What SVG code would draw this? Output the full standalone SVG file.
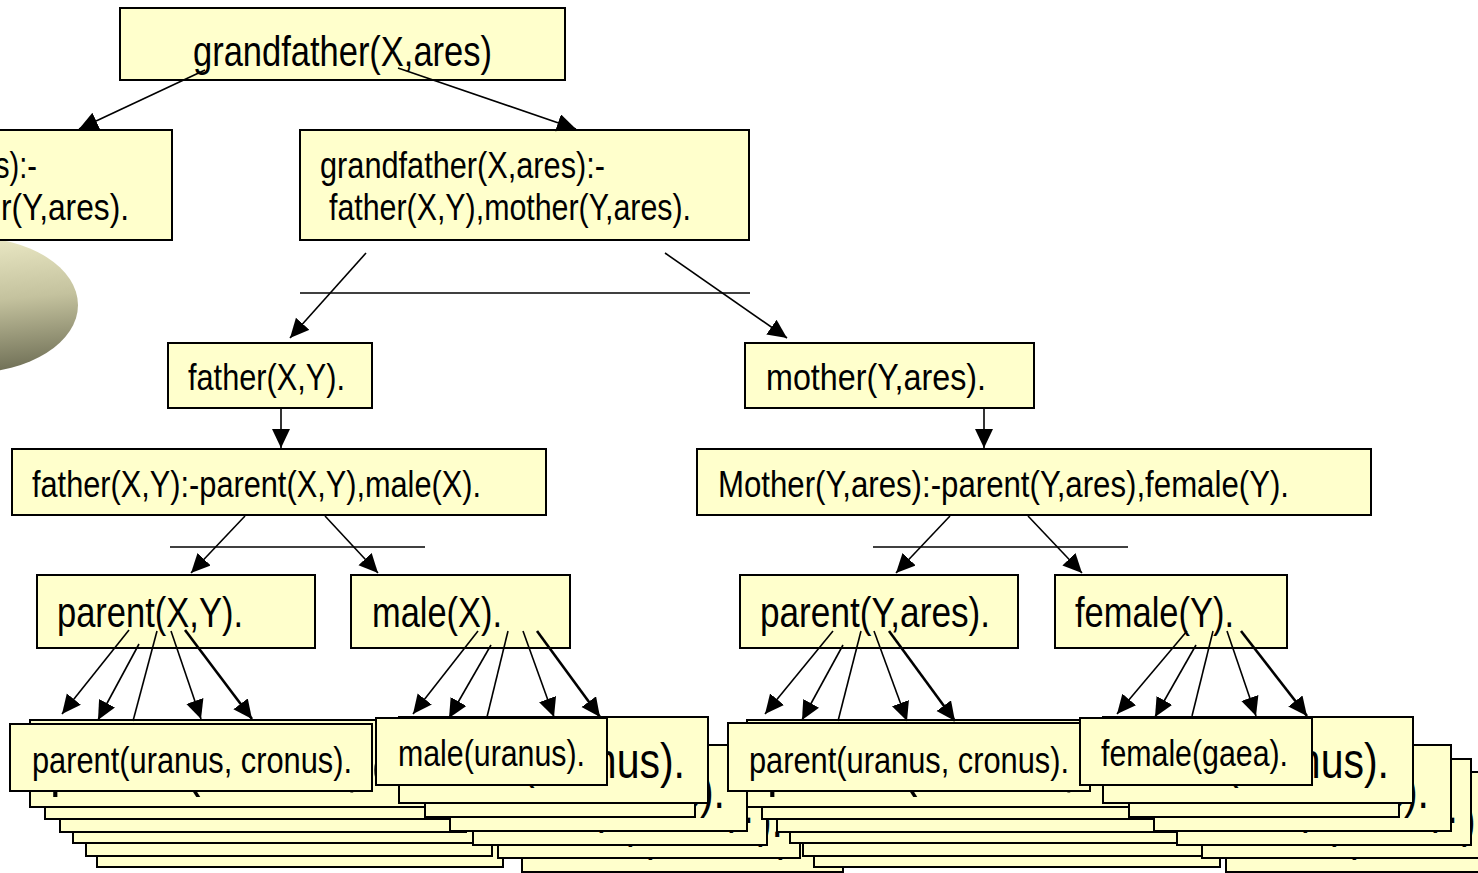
<svg xmlns="http://www.w3.org/2000/svg" width="1478" height="873" viewBox="0 0 1478 873">
  <defs>
    <linearGradient id="bulb" x1="0.3" y1="0" x2="0.45" y2="1">
      <stop offset="0" stop-color="#eeecc8"/>
      <stop offset="0.5" stop-color="#c4c29e"/>
      <stop offset="1" stop-color="#737359"/>
    </linearGradient>
    <marker id="head" markerUnits="userSpaceOnUse" markerWidth="22" markerHeight="22" refX="19" refY="9" orient="auto">
      <path d="M0,0 L19,9 L0,18 z" fill="#000"/>
    </marker>
    <style>
      .box { fill:#FFFFCC; stroke:#000; stroke-width:2; }
      .t { font-family:"Liberation Sans Narrow","Arial Narrow","Liberation Sans",Arial,sans-serif; fill:#000; }
      .s42 { font-size:42px; }
      .s37 { font-size:37.5px; }
      .s50 { font-size:50px; }
      .s58 { font-size:58px; }
      .rule { stroke:#000; stroke-width:1.6; fill:none; }
      .arr { stroke:#000; stroke-width:1.6; fill:none; marker-end:url(#head); }
      .arr.thick { stroke-width:2.6; }
    </style>
  </defs>
  <rect width="1478" height="873" fill="#fff"/>

  <!-- shaded oval on the left edge -->
  <ellipse id="oval" cx="-30" cy="305" rx="108" ry="68" fill="url(#bulb)"/>

  <!-- goal -->
  <g id="goal">
    <rect class="box" x="120" y="8" width="445" height="72"/>
    <text class="t s42" x="193" y="66" textLength="299" lengthAdjust="spacingAndGlyphs">grandfather(X,ares)</text>
  </g>

  <!-- first clause (cut at the left edge) -->
  <g id="clause-left">
    <rect class="box" x="-10" y="130" width="182" height="110"/>
    <text class="t s37" x="-5" y="178" textLength="42" lengthAdjust="spacingAndGlyphs">s):-</text>
    <text class="t s37" x="1" y="220" textLength="128" lengthAdjust="spacingAndGlyphs">r(Y,ares).</text>
  </g>

  <!-- second clause -->
  <g id="clause-right">
    <rect class="box" x="300" y="130" width="449" height="110"/>
    <text class="t s37" x="320" y="178" textLength="285" lengthAdjust="spacingAndGlyphs">grandfather(X,ares):-</text>
    <text class="t s37" x="329" y="220" textLength="362" lengthAdjust="spacingAndGlyphs">father(X,Y),mother(Y,ares).</text>
  </g>

  <g id="father-goal">
    <rect class="box" x="168" y="343" width="204" height="65"/>
    <text class="t s37" x="188" y="390" textLength="157" lengthAdjust="spacingAndGlyphs">father(X,Y).</text>
  </g>
  <g id="mother-goal">
    <rect class="box" x="745" y="343" width="289" height="65"/>
    <text class="t s37" x="766" y="390" textLength="220" lengthAdjust="spacingAndGlyphs">mother(Y,ares).</text>
  </g>

  <g id="father-rule">
    <rect class="box" x="12" y="449" width="534" height="66"/>
    <text class="t s37" x="32" y="497" textLength="449" lengthAdjust="spacingAndGlyphs">father(X,Y):-parent(X,Y),male(X).</text>
  </g>
  <g id="mother-rule">
    <rect class="box" x="697" y="449" width="674" height="66"/>
    <text class="t s37" x="718" y="497" textLength="571" lengthAdjust="spacingAndGlyphs">Mother(Y,ares):-parent(Y,ares),female(Y).</text>
  </g>

  <g id="parent-xy">
    <rect class="box" x="37" y="575" width="278" height="73"/>
    <text class="t s42" x="57" y="627" textLength="186" lengthAdjust="spacingAndGlyphs">parent(X,Y).</text>
  </g>
  <g id="male-x">
    <rect class="box" x="351" y="575" width="219" height="73"/>
    <text class="t s42" x="372" y="627" textLength="130" lengthAdjust="spacingAndGlyphs">male(X).</text>
  </g>
  <g id="parent-y-ares">
    <rect class="box" x="740" y="575" width="278" height="73"/>
    <text class="t s42" x="760" y="627" textLength="230" lengthAdjust="spacingAndGlyphs">parent(Y,ares).</text>
  </g>
  <g id="female-y">
    <rect class="box" x="1055" y="575" width="232" height="73"/>
    <text class="t s42" x="1075" y="627" textLength="159" lengthAdjust="spacingAndGlyphs">female(Y).</text>
  </g>

  <!-- fact stack: parent(uranus, cronus) under parent(X,Y) -->
  <g id="facts-parent-1">
    <rect class="box" x="97" y="780" width="406" height="87"/>
    <rect class="box" x="86" y="769" width="406" height="87"/>
    <rect class="box" x="73" y="756" width="406" height="87"/>
    <rect class="box" x="60" y="745" width="406" height="87"/>
    <rect class="box" x="45" y="732" width="406" height="87"/>
    <rect class="box" x="30" y="720" width="406" height="87"/>
    <text class="t s58" x="50" y="785" textLength="494" lengthAdjust="spacingAndGlyphs">parent(uranus, cronus).</text>
    <rect class="box" x="10" y="724" width="362" height="67"/>
    <text class="t s37" x="32" y="773" textLength="320" lengthAdjust="spacingAndGlyphs">parent(uranus, cronus).</text>
  </g>

  <!-- fact stack: male(uranus) -->
  <g id="facts-male">
    <rect class="box" x="522" y="786" width="321" height="86"/>
    <text class="t s50" x="550" y="850" textLength="253" lengthAdjust="spacingAndGlyphs">male(uranus).</text>
    <rect class="box" x="498" y="772" width="302" height="86"/>
    <text class="t s50" x="530" y="837" textLength="253" lengthAdjust="spacingAndGlyphs">male(uranus).</text>
    <rect class="box" x="473" y="759" width="294" height="86"/>
    <text class="t s50" x="501" y="823" textLength="253" lengthAdjust="spacingAndGlyphs">male(uranus).</text>
    <rect class="box" x="450" y="745" width="297" height="86"/>
    <text class="t s50" x="472" y="808" textLength="253" lengthAdjust="spacingAndGlyphs">male(uranus).</text>
    <rect class="box" x="425" y="731" width="270" height="86"/>
    <text class="t s50" x="453" y="794" textLength="253" lengthAdjust="spacingAndGlyphs">male(uranus).</text>
    <rect class="box" x="399" y="717" width="309" height="86"/>
    <text class="t s50" x="432" y="778" textLength="253" lengthAdjust="spacingAndGlyphs">male(uranus).</text>
    <rect class="box" x="376" y="718" width="231" height="67"/>
    <text class="t s37" x="398" y="766" textLength="187" lengthAdjust="spacingAndGlyphs">male(uranus).</text>
  </g>

  <!-- fact stack: parent(uranus, cronus) under parent(Y,ares) -->
  <g id="facts-parent-2">
    <rect class="box" x="814" y="780" width="406" height="87"/>
    <rect class="box" x="803" y="769" width="406" height="87"/>
    <rect class="box" x="790" y="756" width="406" height="87"/>
    <rect class="box" x="777" y="745" width="406" height="87"/>
    <rect class="box" x="762" y="732" width="406" height="87"/>
    <rect class="box" x="747" y="720" width="406" height="87"/>
    <text class="t s58" x="767" y="785" textLength="494" lengthAdjust="spacingAndGlyphs">parent(uranus, cronus).</text>
    <rect class="box" x="728" y="723" width="362" height="68"/>
    <text class="t s37" x="749" y="773" textLength="320" lengthAdjust="spacingAndGlyphs">parent(uranus, cronus).</text>
  </g>

  <!-- fact stack: female(gaea) -->
  <g id="facts-female">
    <rect class="box" x="1226" y="786" width="321" height="86"/>
    <text class="t s50" x="1254" y="850" textLength="253" lengthAdjust="spacingAndGlyphs">male(uranus).</text>
    <rect class="box" x="1202" y="772" width="302" height="86"/>
    <text class="t s50" x="1234" y="837" textLength="253" lengthAdjust="spacingAndGlyphs">male(uranus).</text>
    <rect class="box" x="1177" y="759" width="294" height="86"/>
    <text class="t s50" x="1205" y="823" textLength="253" lengthAdjust="spacingAndGlyphs">male(uranus).</text>
    <rect class="box" x="1154" y="745" width="297" height="86"/>
    <text class="t s50" x="1176" y="808" textLength="253" lengthAdjust="spacingAndGlyphs">male(uranus).</text>
    <rect class="box" x="1129" y="731" width="270" height="86"/>
    <text class="t s50" x="1157" y="794" textLength="253" lengthAdjust="spacingAndGlyphs">male(uranus).</text>
    <rect class="box" x="1103" y="717" width="310" height="86"/>
    <text class="t s50" x="1136" y="778" textLength="253" lengthAdjust="spacingAndGlyphs">male(uranus).</text>
    <rect class="box" x="1080" y="718" width="232" height="67"/>
    <text class="t s37" x="1101" y="766" textLength="187" lengthAdjust="spacingAndGlyphs">female(gaea).</text>
  </g>

  <!-- connectors -->
  <g id="connectors">
    <line class="arr" x1="205" y1="70" x2="79" y2="129"/>
    <line class="arr" x1="398" y1="68" x2="576" y2="129"/>

    <line class="rule" x1="300" y1="293" x2="750" y2="293"/>
    <line class="arr" x1="366" y1="253" x2="290" y2="338"/>
    <line class="arr" x1="665" y1="253" x2="787" y2="338"/>

    <line class="arr" x1="281" y1="408" x2="281" y2="448"/>
    <line class="arr" x1="984" y1="408" x2="984" y2="448"/>

    <line class="rule" x1="170" y1="547" x2="425" y2="547"/>
    <line class="arr" x1="245" y1="516" x2="191" y2="573"/>
    <line class="arr" x1="325" y1="516" x2="378" y2="573"/>
    <line class="rule" x1="873" y1="547" x2="1128" y2="547"/>
    <line class="arr" x1="950" y1="516" x2="896" y2="573"/>
    <line class="arr" x1="1028" y1="516" x2="1082" y2="573"/>

    <line class="arr" x1="129" y1="630" x2="62" y2="714"/>
    <line class="arr" x1="139" y1="644" x2="98" y2="720"/>
    <line class="rule" x1="157" y1="631" x2="133" y2="721"/>
    <line class="arr" x1="171" y1="631" x2="201" y2="719"/>
    <line class="arr thick" x1="185" y1="630" x2="252" y2="719"/>

    <line class="arr" x1="478" y1="631" x2="413" y2="714"/>
    <line class="arr" x1="491" y1="645" x2="449" y2="718"/>
    <line class="rule" x1="508" y1="631" x2="487" y2="717"/>
    <line class="arr" x1="523" y1="631" x2="554" y2="717"/>
    <line class="arr thick" x1="537" y1="631" x2="600" y2="717"/>

    <line class="arr" x1="833" y1="631" x2="765" y2="714"/>
    <line class="arr" x1="843" y1="645" x2="802" y2="720"/>
    <line class="rule" x1="861" y1="631" x2="838" y2="721"/>
    <line class="arr" x1="874" y1="631" x2="907" y2="721"/>
    <line class="arr thick" x1="889" y1="631" x2="955" y2="721"/>

    <line class="arr" x1="1187" y1="631" x2="1117" y2="714"/>
    <line class="arr" x1="1196" y1="645" x2="1155" y2="717"/>
    <line class="rule" x1="1213" y1="631" x2="1192" y2="716"/>
    <line class="arr" x1="1227" y1="631" x2="1256" y2="716"/>
    <line class="arr thick" x1="1241" y1="631" x2="1307" y2="716"/>
  </g>
</svg>
